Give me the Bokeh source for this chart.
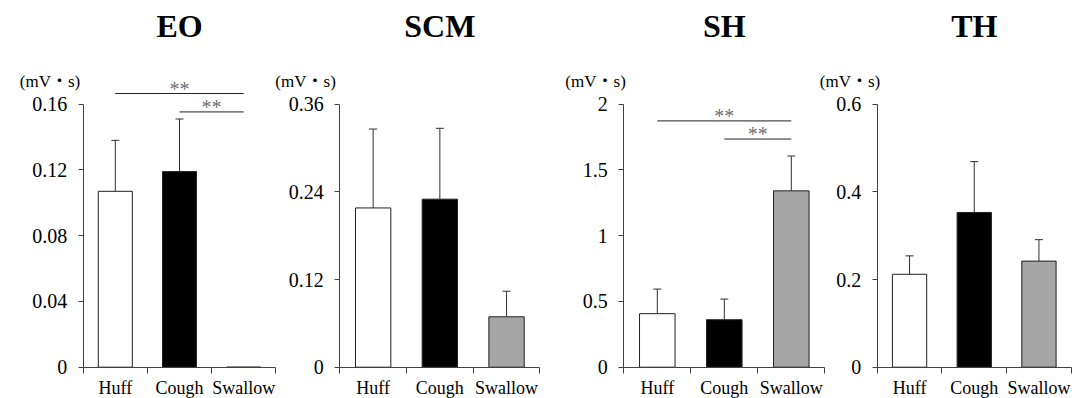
from bokeh.plotting import figure
from bokeh.models import (FixedTicker, Range1d, Label, Whisker, TeeHead, ColumnDataSource,
                          LinearAxis)
from bokeh.embed import file_html
from bokeh.resources import INLINE
from bokeh.core.properties import value

# ---------------- data ----------------
categories = ["Huff", "Cough", "Swallow"]
bar_colors = ["#ffffff", "#000000", "#a6a6a6"]
unit_label = "(mV・s)"
sig_text = "**"

titles = ["EO", "SCM", "SH", "TH"]

eo_mean = [0.107, 0.119, 0.0]
eo_sd = [0.031, 0.032, 0.0]
scm_mean = [0.218, 0.230, 0.069]
scm_sd = [0.108, 0.097, 0.035]
sh_mean = [0.407, 0.361, 1.341]
sh_sd = [0.187, 0.157, 0.265]
th_mean = [0.212, 0.353, 0.242]
th_sd = [0.042, 0.116, 0.049]

eo_ticks = [0, 0.04, 0.08, 0.12, 0.16]
eo_tick_labels = ["0", "0.04", "0.08", "0.12", "0.16"]
scm_ticks = [0, 0.12, 0.24, 0.36]
scm_tick_labels = ["0", "0.12", "0.24", "0.36"]
sh_ticks = [0, 0.5, 1, 1.5, 2]
sh_tick_labels = ["0", "0.5", "1", "1.5", "2"]
th_ticks = [0, 0.2, 0.4, 0.6]
th_tick_labels = ["0", "0.2", "0.4", "0.6"]

# significance brackets: from category, to category, level (data units)
eo_sig_from = ["Huff", "Cough"]
eo_sig_to = ["Swallow", "Swallow"]
eo_sig_level = [0.1665, 0.1553]
sh_sig_from = ["Huff", "Cough"]
sh_sig_to = ["Swallow", "Swallow"]
sh_sig_level = [1.873, 1.735]

# ---------------- layout (pixels, canvas coordinates) ----------------
panels = [
    dict(title=titles[0], mean=eo_mean, sd=eo_sd, ticks=eo_ticks, labels=eo_tick_labels,
         sig=(eo_sig_from, eo_sig_to, eo_sig_level), axis_px=82.7, catw=64.2, unit_dx=-3),
    dict(title=titles[1], mean=scm_mean, sd=scm_sd, ticks=scm_ticks, labels=scm_tick_labels,
         sig=None, axis_px=339.3, catw=66.7, unit_dx=-4),
    dict(title=titles[2], mean=sh_mean, sd=sh_sd, ticks=sh_ticks, labels=sh_tick_labels,
         sig=(sh_sig_from, sh_sig_to, sh_sig_level), axis_px=623.3, catw=67.0, unit_dx=2),
    dict(title=titles[3], mean=th_mean, sd=th_sd, ticks=th_ticks, labels=th_tick_labels,
         sig=None, axis_px=876.7, catw=64.7, unit_dx=3),
]

WIDTH = 1081
HEIGHT = 398
ZERO_PX = 366.7       # pixels from canvas top to the zero line
TOP_PX = 263          # pixels from zero line to top tick
TITLE_BASE = 25       # canvas y of title baseline
UNIT_BASE = 81        # canvas y of unit label baseline

SERIF = "Liberation Serif"
AXIS_COLOR = "#404040"

p = figure(width=WIDTH, height=HEIGHT, output_backend="svg", toolbar_location=None,
           x_range=Range1d(0, WIDTH), y_range=Range1d(0, HEIGHT),
           x_axis_type=None, y_axis_type=None,
           min_border=0, min_border_left=0, min_border_right=0,
           min_border_top=0, min_border_bottom=0)
p.title.visible = False
p.outline_line_color = None
p.grid.visible = False
p.background_fill_color = "white"
p.border_fill_color = "white"

xranges = {}
yranges = {}
for i, pn in enumerate(panels):
    top_tick = pn["ticks"][-1]
    ppu = TOP_PX / top_tick
    xranges[f"x{i}"] = Range1d(-pn["axis_px"] / pn["catw"], (WIDTH - pn["axis_px"]) / pn["catw"])
    yranges[f"y{i}"] = Range1d(-(HEIGHT - ZERO_PX) / ppu, ZERO_PX / ppu)
p.extra_x_ranges = xranges
p.extra_y_ranges = yranges

xs = [i + 0.5 for i in range(len(categories))]

for i, pn in enumerate(panels):
    xn, yn = f"x{i}", f"y{i}"
    top_tick = pn["ticks"][-1]
    ppu = TOP_PX / top_tick

    src = ColumnDataSource(dict(x=xs, top=pn["mean"], color=bar_colors, cat=categories))
    p.vbar(x="x", top="top", width=0.53, bottom=0, source=src,
           fill_color="color", line_color="#202020", line_width=1,
           x_range_name=xn, y_range_name=yn)
    wsrc = ColumnDataSource(dict(
        x=[x for x, s in zip(xs, pn["sd"]) if s > 0],
        lower=[m for m, s in zip(pn["mean"], pn["sd"]) if s > 0],
        upper=[m + s for m, s in zip(pn["mean"], pn["sd"]) if s > 0]))
    p.add_layout(Whisker(source=wsrc, base="x", upper="upper", lower="lower",
                         dimension="height", line_color="#303030", line_width=1,
                         upper_head=TeeHead(size=8, line_color="#303030", line_width=1),
                         lower_head=None, x_range_name=xn, y_range_name=yn))

    # x axis, drawn at y = 0 of this panel
    xa = LinearAxis(x_range_name=xn, y_range_name=yn, fixed_location=0)
    xa.ticker = FixedTicker(ticks=xs, minor_ticks=[float(k) for k in range(len(categories) + 1)])
    xa.major_label_overrides = {x: c for x, c in zip(xs, categories)}
    xa.major_tick_line_color = None
    xa.major_tick_out = 6
    xa.major_tick_in = 0
    xa.minor_tick_out = 6
    xa.minor_tick_in = 0
    xa.minor_tick_line_color = AXIS_COLOR
    xa.axis_line_color = AXIS_COLOR
    xa.major_label_standoff = 5
    xa.major_label_text_font = SERIF
    xa.major_label_text_font_size = "18px"
    xa.major_label_text_color = "black"
    xa.bounds = (0, len(categories))
    p.add_layout(xa, "below")

    # y axis, drawn at x = 0 of this panel
    ya = LinearAxis(x_range_name=xn, y_range_name=yn, fixed_location=0)
    ya.ticker = FixedTicker(ticks=pn["ticks"], minor_ticks=[])
    ya.major_label_overrides = {t: l for t, l in zip(pn["ticks"], pn["labels"])}
    ya.major_tick_out = 5
    ya.major_tick_in = 0
    ya.major_tick_line_color = AXIS_COLOR
    ya.axis_line_color = AXIS_COLOR
    ya.major_label_standoff = 11
    ya.major_label_text_font = SERIF
    ya.major_label_text_font_size = "20px"
    ya.major_label_text_color = "black"
    ya.bounds = (0, top_tick)
    p.add_layout(ya, "left")

    # panel title
    p.add_layout(Label(x=len(categories) / 2, y=(ZERO_PX - TITLE_BASE) / ppu,
                       text=pn["title"], text_align="center", text_baseline="alphabetic",
                       text_font=SERIF, text_font_style="bold", text_font_size="32px",
                       text_color="black", x_range_name=xn, y_range_name=yn))
    # unit label
    p.add_layout(Label(x=0, y=(ZERO_PX - UNIT_BASE) / ppu, x_offset=pn["unit_dx"],
                       text=unit_label, text_align="right", text_baseline="alphabetic",
                       text_font="Liberation Serif, Noto Sans CJK JP", text_font_size="17px",
                       text_color="black", x_range_name=xn, y_range_name=yn))

    # significance brackets
    if pn["sig"] is not None:
        f, t, lv = pn["sig"]
        x0 = [categories.index(c) + 0.5 for c in f]
        x1 = [categories.index(c) + 0.5 for c in t]
        ssrc = ColumnDataSource(dict(x0=x0, x1=x1, y=lv,
                                     xm=[(a + b) / 2 for a, b in zip(x0, x1)],
                                     txt=[sig_text] * len(lv)))
        p.segment(x0="x0", y0="y", x1="x1", y1="y", source=ssrc, line_color="#202020",
                  line_width=1, x_range_name=xn, y_range_name=yn)
        p.text(x="xm", y="y", text="txt", source=ssrc, text_align="center",
               text_baseline="bottom", text_font=value("Liberation Serif"),
               text_font_size="20px", text_color="#707070", y_offset=6,
               x_range_name=xn, y_range_name=yn)

open("out.html", "w").write(file_html(p, INLINE))
